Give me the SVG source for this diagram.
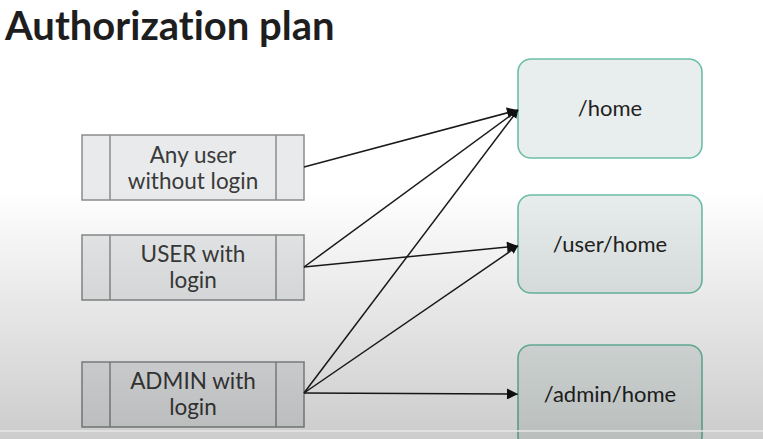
<svg xmlns="http://www.w3.org/2000/svg" width="763" height="439" viewBox="0 0 763 439">
<defs>
<linearGradient id="shade" x1="0" y1="0" x2="0" y2="439" gradientUnits="userSpaceOnUse">
<stop offset="0" stop-color="#000" stop-opacity="0"/>
<stop offset="0.43" stop-color="#000" stop-opacity="0"/>
<stop offset="1" stop-color="#000" stop-opacity="0.2"/>
</linearGradient>
<marker id="arr" viewBox="0 0 10 10" refX="10" refY="5" markerWidth="8" markerHeight="8" markerUnits="userSpaceOnUse" orient="auto">
<path d="M0,0 L10,5 L0,10 z" fill="#111"/>
</marker>
<marker id="arrL" viewBox="0 0 10 10" refX="10" refY="5" markerWidth="13" markerHeight="11" markerUnits="userSpaceOnUse" orient="auto">
<path d="M0,0 L10,5 L0,10 z" fill="#111"/>
</marker>
</defs>
<style>
text{font-variant-ligatures:none}
.src rect{fill:#e8eaeb;stroke:#8a8c8c;stroke-width:1.5}
.src line{stroke:#8a8c8c;stroke-width:1.5}
.dst rect{fill:#e8eeed;stroke:#6cbfa6;stroke-width:1.6}
.t{font-family:Lato,"Liberation Sans",sans-serif;font-size:22.5px;fill:#3a3a3a;text-anchor:middle}
.d{font-family:Lato,"Liberation Sans",sans-serif;font-size:22px;fill:#222;text-anchor:middle}
.c line{stroke:#1a1a1a;stroke-width:1.5;marker-end:url(#arr)}
</style>
<rect width="763" height="439" fill="#fff"/>
<text x="5" y="40" font-family="Lato,'Liberation Sans',sans-serif" font-weight="bold" font-size="40" fill="#1e1e1e">Authorization plan</text>
<g id="any" class="src">
<rect x="82" y="135" width="222" height="65"/>
<line x1="110" y1="135" x2="110" y2="200"/><line x1="276" y1="135" x2="276" y2="200"/>
<text class="t" x="193" y="163">Any user</text>
<text class="t" x="193" y="189">without login</text>
</g>
<g id="user" class="src">
<rect x="82" y="235" width="222" height="65"/>
<line x1="110" y1="235" x2="110" y2="300"/><line x1="276" y1="235" x2="276" y2="300"/>
<text class="t" x="193" y="262">USER with</text>
<text class="t" x="193" y="288">login</text>
</g>
<g id="admin" class="src">
<rect x="82" y="362" width="222" height="65"/>
<line x1="110" y1="362" x2="110" y2="427"/><line x1="276" y1="362" x2="276" y2="427"/>
<text class="t" x="193" y="389">ADMIN with</text>
<text class="t" x="193" y="415">login</text>
</g>
<g id="home" class="dst">
<rect x="518" y="59" width="184" height="99" rx="13"/>
<text class="d" x="610" y="116">/home</text>
</g>
<g id="userhome" class="dst">
<rect x="518" y="195" width="184" height="98" rx="13"/>
<text class="d" x="610" y="252">/user/home</text>
</g>
<g id="adminhome" class="dst">
<rect x="518" y="345" width="184" height="104" rx="13"/>
<text class="d" x="610" y="402">/admin/home</text>
</g>
<g id="connectors" class="c">
<line x1="304" y1="167" x2="518" y2="110" style="marker-end:url(#arrL)"/>
<line x1="304" y1="267" x2="518" y2="110"/>
<line x1="304" y1="393" x2="518" y2="110"/>
<line x1="304" y1="267" x2="518" y2="246" style="marker-end:url(#arrL)"/>
<line x1="304" y1="393" x2="518" y2="246"/>
<line x1="304" y1="393" x2="518" y2="394" style="marker-end:url(#arrL)"/>
</g>
<rect width="763" height="439" fill="url(#shade)"/>
<g stroke="#e6e6e6" stroke-width="1.5">
<line x1="0" y1="431" x2="763" y2="431"/>
</g>
</svg>
